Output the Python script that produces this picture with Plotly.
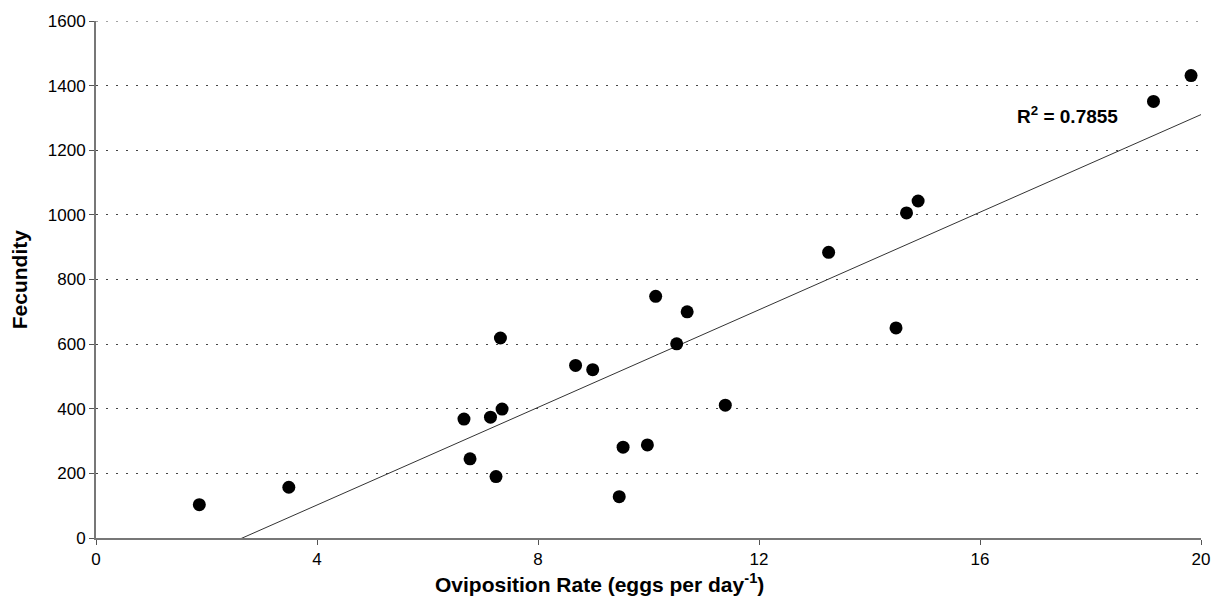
import numpy as np
import plotly.graph_objects as go

# Oviposition rate (eggs per day) and lifetime fecundity per female
oviposition_rate = [1.87, 3.49, 6.66, 6.77, 7.14, 7.24, 7.32, 7.35, 8.68, 8.99,
                    9.47, 9.54, 9.98, 10.13, 10.51, 10.70, 11.39, 13.26, 14.48,
                    14.67, 14.88, 19.14, 19.82]
fecundity = [103, 157, 368, 245, 374, 190, 619, 399, 534, 521,
             128, 281, 288, 748, 601, 700, 411, 884, 650,
             1006, 1043, 1351, 1431]

r2_label = "<b>R<sup>2</sup> = 0.7855</b>"
x_title = "<b>Oviposition Rate (eggs per day<sup>-1</sup>)</b>"
y_title = "<b>Fecundity</b>"
x_ticks = [0, 4, 8, 12, 16, 20]
y_ticks = [0, 200, 400, 600, 800, 1000, 1200, 1400, 1600]

# Least-squares linear trend
slope, intercept = np.polyfit(oviposition_rate, fecundity, 1)
trend_x = np.array([0, 20])
trend_y = slope * trend_x + intercept

FONT = "Liberation Sans, Arial, sans-serif"
GRID_DASH = "2px,8px"

fig = go.Figure()
fig.add_trace(go.Scatter(
    x=trend_x, y=trend_y, mode="lines",
    line=dict(color="#333333", width=1),
    hoverinfo="skip", showlegend=False,
))
fig.add_trace(go.Scatter(
    x=oviposition_rate, y=fecundity, mode="markers",
    marker=dict(color="black", size=13, line=dict(width=0)),
    showlegend=False,
))

fig.add_annotation(
    x=17.58, y=1309, text=r2_label, showarrow=False,
    font=dict(family=FONT, size=19, color="black"),
)

# Axis titles placed as paper-anchored text
fig.add_annotation(
    xref="paper", yref="paper", x=0.456, y=-0.087, text=x_title,
    showarrow=False, xanchor="center", yanchor="middle",
    font=dict(family=FONT, size=21, color="black"),
)
fig.add_annotation(
    xref="paper", yref="paper", x=-0.069, y=0.5, text=y_title,
    showarrow=False, xanchor="center", yanchor="middle", textangle=-90,
    font=dict(family=FONT, size=21, color="black"),
)

# Dotted line along the top edge at the highest tick
fig.add_shape(
    type="line", xref="paper", yref="y", x0=0, x1=1, y0=1600, y1=1600,
    line=dict(color="#444444", width=1, dash=GRID_DASH), layer="below",
)

axis_font = dict(family=FONT, size=17, color="black")

fig.update_layout(
    width=1223, height=608,
    margin=dict(l=96, r=22, t=18, b=70),
    plot_bgcolor="white", paper_bgcolor="white",
    xaxis=dict(
        range=[0, 20], tickvals=x_ticks, ticks="outside", ticklen=5,
        tickcolor="#555555", showline=True, linecolor="#777777", linewidth=2,
        showgrid=False, zeroline=False, tickfont=axis_font,
    ),
    yaxis=dict(
        range=[0, 1600], tickvals=y_ticks, ticks="outside", ticklen=5,
        tickcolor="#555555", showline=True, linecolor="#777777", linewidth=2,
        showgrid=True, gridcolor="#444444", griddash=GRID_DASH, gridwidth=1,
        zeroline=False, tickfont=axis_font,
    ),
)

fig.write_html("out.html")
